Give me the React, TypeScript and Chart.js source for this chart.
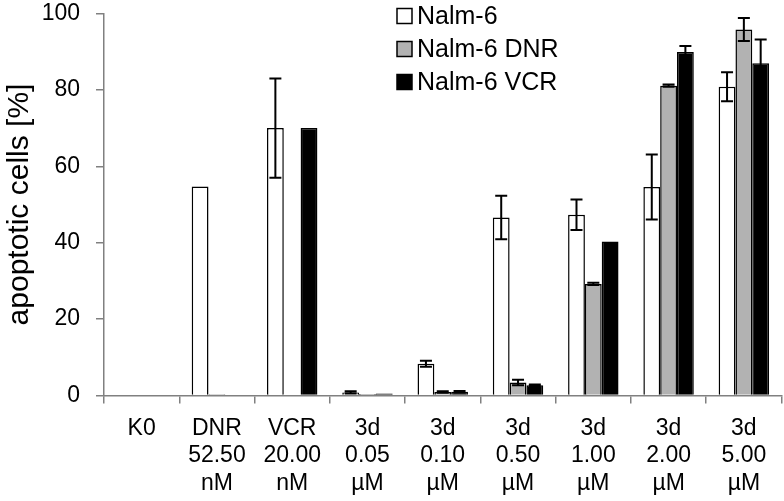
import React, { useEffect, useRef } from "react";
import { Chart, registerables } from "chart.js";

Chart.register(...registerables);

const categories: string[][] = [
  ["K0"],
  ["DNR", "52.50", "nM"],
  ["VCR", "20.00", "nM"],
  ["3d", "0.05", "µM"],
  ["3d", "0.10", "µM"],
  ["3d", "0.50", "µM"],
  ["3d", "1.00", "µM"],
  ["3d", "2.00", "µM"],
  ["3d", "5.00", "µM"],
];

const seriesNames = ["Nalm-6", "Nalm-6 DNR", "Nalm-6 VCR"];
const nalm6 = [0.2, 54.7, 70.0, 0.8, 8.3, 46.6, 47.3, 54.6, 80.8];
const nalm6Err = [0, 0, 13.0, 0.3, 0.8, 5.7, 4.0, 8.5, 3.8];
const nalm6DNR = [0.2, 0.3, 0, 0.4, 0.9, 3.4, 29.2, 81.1, 95.8];
const nalm6DNRErr = [0, 0, 0, 0, 0.2, 0.7, 0.3, 0.3, 3.0];
const nalm6VCR = [0.2, 0, 70.0, 0.5, 1.0, 2.7, 40.3, 89.9, 87.0];
const nalm6VCRErr = [0, 0, 0, 0, 0.2, 0.2, 0, 1.6, 6.2];

const yTicks = [0, 20, 40, 60, 80, 100];

const errorsBySeries = [nalm6Err, nalm6DNRErr, nalm6VCRErr];

const FONT = "'Liberation Sans', Arial, sans-serif";

const errorBarPlugin = {
  id: "errorBars",
  afterDatasetsDraw(chart: any) {
    const ctx = chart.ctx;
    const yScale = chart.scales.y;
    ctx.save();
    ctx.strokeStyle = "#000";
    ctx.lineWidth = 2;
    chart.data.datasets.forEach((ds: any, di: number) => {
      const meta = chart.getDatasetMeta(di);
      const errs = errorsBySeries[di];
      meta.data.forEach((bar: any, i: number) => {
        const e = errs[i];
        if (!e) return;
        const v = ds.data[i];
        const x = bar.x;
        const yTop = yScale.getPixelForValue(v + e);
        const yBot = yScale.getPixelForValue(v - e);
        const cap = 6;
        ctx.beginPath();
        ctx.moveTo(x, yTop);
        ctx.lineTo(x, yBot);
        ctx.moveTo(x - cap, yTop);
        ctx.lineTo(x + cap, yTop);
        ctx.moveTo(x - cap, yBot);
        ctx.lineTo(x + cap, yBot);
        ctx.stroke();
      });
    });
    ctx.restore();
  },
};

const legendPlugin = {
  id: "customLegend",
  afterDraw(chart: any) {
    const ctx = chart.ctx;
    ctx.save();
    const x0 = 397;
    const rows = [16, 49, 82];
    ctx.font = "25px " + FONT;
    ctx.textBaseline = "middle";
    chart.data.datasets.forEach((ds: any, i: number) => {
      const y = rows[i];
      ctx.fillStyle = ds.backgroundColor;
      ctx.fillRect(x0, y - 7.5, 15, 15);
      ctx.strokeStyle = "#000";
      ctx.lineWidth = 1.5;
      ctx.strokeRect(x0, y - 7.5, 15, 15);
      ctx.fillStyle = "#000";
      ctx.fillText(ds.label, x0 + 20, y + 1);
    });
    ctx.restore();
  },
};

export default function App() {
  const ref = useRef<HTMLCanvasElement>(null);
  useEffect(() => {
    document.body.style.margin = "0";
    const fills = ["#ffffff", "#b2b2b2", "#000000"];
    const values = [nalm6, nalm6DNR, nalm6VCR];
    const chart = new Chart(ref.current!, {
      type: "bar",
      data: {
        labels: categories,
        datasets: seriesNames.map((name, i) => ({
          label: name,
          data: values[i],
          backgroundColor: fills[i],
          borderColor: "#000",
          borderWidth: 1.5,
          categoryPercentage: 0.67,
          barPercentage: 1.0,
        })),
      },
      options: {
        animation: false,
        responsive: false,
        devicePixelRatio: 1,
        layout: { padding: { top: 13.5, right: 2.5, left: 0, bottom: 0 } },
        plugins: {
          legend: { display: false },
          tooltip: { enabled: false },
        },
        scales: {
          x: {
            afterFit: (axis: any) => {
              axis.height = 105.5;
              axis.paddingLeft = 0;
              axis.paddingRight = 0;
            },
            grid: {
              display: true,
              drawOnChartArea: false,
              offset: true,
              tickLength: 8,
              color: "#808080",
              lineWidth: 1.5,
            },
            border: { color: "#808080", width: 1.5 },
            ticks: {
              color: "#000",
              font: { family: FONT, size: 23, lineHeight: 1.2 },
              maxRotation: 0,
              autoSkip: false,
              padding: 11,
            },
          },
          y: {
            min: 0,
            max: 100,
            afterFit: (axis: any) => {
              axis.width = 104;
              axis.paddingTop = 0;
              axis.paddingBottom = 0;
            },
            afterBuildTicks: (axis: any) => {
              axis.ticks = yTicks.map((v) => ({ value: v }));
            },
            grid: {
              display: true,
              drawOnChartArea: false,
              tickLength: 8,
              color: "#808080",
              lineWidth: 1.5,
            },
            border: { color: "#808080", width: 1.5 },
            ticks: {
              color: "#000",
              font: { family: FONT, size: 23 },
              padding: 16,
            },
            title: {
              display: true,
              text: "apoptotic cells [%]",
              color: "#000",
              font: { family: FONT, size: 30, lineHeight: 1.2 },
              padding: { top: 2, bottom: 0 },
            },
          },
        },
      },
      plugins: [errorBarPlugin, legendPlugin],
    });
    return () => chart.destroy();
  }, []);
  return <canvas ref={ref} width={784} height={501} style={{ display: "block" }} />;
}
